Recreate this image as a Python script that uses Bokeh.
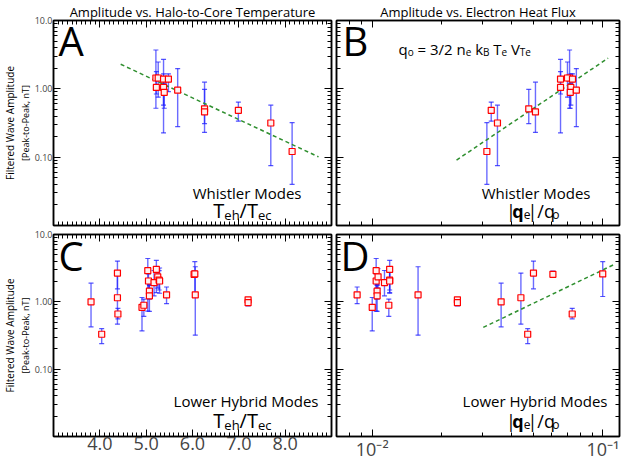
import math
from bokeh.plotting import figure
from bokeh.models import (ColumnDataSource, Range1d, FixedTicker, LinearAxis, LogAxis,
                          Label, PrintfTickFormatter, Title, Grid)
from bokeh.layouts import column, row
from bokeh.embed import file_html
from bokeh.resources import INLINE

# ---------------- data ----------------
# Whistler-mode events (panels A and B)
wh_teh_tec = [5.21, 5.26, 5.22, 5.375, 5.375, 5.39, 5.48, 5.68, 6.26, 6.26, 6.99, 7.69, 8.15]
wh_q_ratio = [0.0717, 0.0702, 0.0655, 0.0655, 0.0726, 0.0722, 0.0738, 0.0767, 0.0477, 0.0510,
              0.0328, 0.0349, 0.0314]
wh_amp = [1.44, 1.44, 1.05, 1.39, 1.05, 0.89, 1.39, 0.955, 0.51, 0.46, 0.485, 0.316, 0.121]
wh_amp_lo = [0.52, 0.755, 0.84, 0.226, 0.577, 0.52, 0.908, 0.28, 0.31, 0.23, 0.336, 0.075, 0.040]
wh_amp_hi = [3.7, 2.47, 1.79, 2.69, 1.66, 1.2, 1.66, 1.98, 0.98, 1.25, 0.64, 0.577, 0.32]

# Lower-hybrid events (panels C and D)
lh_teh_tec = [3.81, 4.04, 4.38, 4.38, 4.39, 4.91, 4.95, 5.035, 5.05, 5.07, 5.07, 5.25, 5.17,
              5.22, 5.28, 5.29, 6.06, 7.20, 7.20, 5.44, 6.035, 6.05]
lh_q_ratio = [0.0362, 0.0472, 0.0500, 0.0441, 0.0736, 0.0100, 0.0118, 0.0104, 0.0104, 0.0105,
              0.0105, 0.0106, 0.0113, 0.0119, 0.0119, 0.0119, 0.0158, 0.0234, 0.0234, 0.0086,
              0.0607, 0.0998]
lh_amp = [1.00, 0.33, 2.67, 1.15, 0.66, 0.83, 0.89, 2.90, 2.04, 1.44, 1.23, 2.35, 1.93, 3.04,
          2.10, 2.04, 1.27, 1.07, 0.97, 1.27, 2.56, 2.60]
lh_amp_lo = [0.425, 0.24, 1.56, 0.465, 0.56, 0.37, 0.61, 0.73, 1.5, 1.1, 0.72, 1.6, 1.23, 1.37,
             1.5, 1.34, 0.32, 0.95, 0.87, 0.94, 2.4, 1.2]
lh_amp_hi = [1.89, 0.40, 4.03, 2.67, 0.80, 1.16, 1.10, 4.4, 2.6, 1.8, 1.75, 3.1, 2.92, 4.12,
             2.9, 3.18, 3.32, 1.16, 1.10, 1.66, 2.85, 3.95]

# fitted trend lines (end points)
fit_a_x = [4.45, 8.72]
fit_a_y = [2.29, 0.101]
fit_b_x = [0.0232, 0.1053]
fit_b_y = [0.0906, 2.81]
fit_d_x = [0.0303, 0.1125]
fit_d_y = [0.417, 3.62]

# axes
teh_range = (3.0, 9.0)
q_range = (0.007, 0.118)
amp_range = (0.01, 10.0)
teh_ticks = [4, 5, 6, 7, 8]
q_ticks = [0.01, 0.1]
q_tick_labels = {0.01: "10\u207b\u00b2", 0.1: "10\u207b\u00b9"}
amp_ticks = [0.1, 1.0, 10.0]
amp_tick_labels = {10.0: "10.0", 1.0: "1.00", 0.1: "0.10"}

titles = ["Amplitude vs. Halo-to-Core Temperature", "Amplitude vs. Electron Heat Flux"]
ylab1 = "Filtered Wave Amplitude"
ylab2 = "[Peak-to-Peak, nT]"

# ---------------- styling ----------------
FONT = "Open Sans"
BAR = "#1c1cff"
FIT = "#2f8f2f"

teh_minor = [round(3 + 0.1 * i, 1) for i in range(61) if i % 10 != 0]
amp_minor = [m * 10.0 ** e for e in (-2, -1, 0) for m in range(2, 10)]
q_minor = [m * 10.0 ** e for e in (-3, -2, -1) for m in range(2, 10)
           if q_range[0] <= m * 10.0 ** e <= q_range[1]]

WID = {' ': 0.26, 'T': 0.55, 'e': 0.56, 'h': 0.61, 'c': 0.48, '/': 0.37, 'q': 0.61, 'o': 0.60,
       '=': 0.57, '3': 0.57, '2': 0.57, 'n': 0.61, 'k': 0.52, 'B': 0.64, 'V': 0.58, '|': 0.40}


def tw(s, size, bold=False):
    return sum(WID.get(c, 0.55) for c in s) * size * (1.05 if bold else 1.0)


def rich(p, segs, x, y, align="left"):
    """segs: list of (text, size, dy, bold, kern); leading spaces become gaps."""
    total = sum(tw(t, s, b) + k for t, s, _, b, k in segs)
    cx = x - total if align == "right" else x
    for t, s, dy, b, k in segs:
        cx += k
        lead = len(t) - len(t.lstrip(" "))
        cx += tw(" " * lead, s)
        t = t.lstrip(" ")
        p.add_layout(Label(x=cx, y=y + dy, x_units="screen", y_units="screen", text=t,
                           text_font=FONT, text_font_size=f"{s}px",
                           text_font_style="bold" if b else "normal",
                           text_color="black", text_baseline="alphabetic", text_align="left"))
        cx += tw(t, s, b)


def style_axis(ax, show):
    ax.axis_line_color = "black"
    ax.axis_line_width = 1.5
    ax.major_tick_line_color = "black"
    ax.minor_tick_line_color = "black"
    ax.major_tick_in = 7
    ax.major_tick_out = 0
    ax.minor_tick_in = 4
    ax.minor_tick_out = 0
    ax.major_label_text_font = FONT
    if not show:
        ax.major_label_text_font_size = "0px"
        ax.major_label_text_color = None
        ax.major_label_standoff = 0


def panel(xtype, xr, fw, fh, left, right, top, bottom, xlabels, ylabels, title=None):
    p = figure(frame_width=fw, frame_height=fh, x_axis_type=xtype, y_axis_type="log",
               x_range=Range1d(*xr), y_range=Range1d(*amp_range),
               x_axis_location=None, y_axis_location=None,
               output_backend="svg", toolbar_location=None, title=title,
               min_border_left=left, min_border_right=right,
               min_border_top=top, min_border_bottom=bottom)
    p.outline_line_color = "black"
    p.outline_line_width = 1.5
    p.background_fill_color = "white"
    p.border_fill_color = "white"
    if title is not None:
        p.title.align = "center"
        p.title.text_font = FONT
        p.title.text_font_size = "13px"
        p.title.text_font_style = "normal"
        p.title.text_color = "black"
        p.title.standoff = 0
    if xtype == "log":
        xt, xm = q_ticks, q_minor
    else:
        xt, xm = teh_ticks, teh_minor
    for loc in ("below", "above"):
        ax = (LogAxis if xtype == "log" else LinearAxis)(
            ticker=FixedTicker(ticks=xt, minor_ticks=xm))
        show = (loc == "below" and xlabels)
        style_axis(ax, show)
        if show:
            ax.major_label_text_font_size = "18px"
            ax.major_label_standoff = 0
            if xtype == "log":
                ax.major_label_overrides = q_tick_labels
            else:
                ax.formatter = PrintfTickFormatter(format="%.1f")
        p.add_layout(ax, loc)
    for loc in ("left", "right"):
        ax = LogAxis(ticker=FixedTicker(ticks=amp_ticks, minor_ticks=amp_minor))
        show = (loc == "left" and ylabels)
        style_axis(ax, show)
        if show:
            ax.major_label_text_font_size = "9px"
            ax.major_label_standoff = 1
            ax.major_label_overrides = amp_tick_labels
        p.add_layout(ax, loc)
    if ylabels:
        p.add_layout(Title(text=ylab2, align="center", text_font=FONT, text_font_size="9px",
                           text_font_style="normal", text_color="black", standoff=0), "left")
        p.add_layout(Title(text=ylab1, align="center", text_font=FONT, text_font_size="10px",
                           text_font_style="normal", text_color="black", standoff=0), "left")
    for r in p.center:
        if isinstance(r, Grid):
            r.visible = False
    return p


def draw(p, x, y, lo, hi, fx=None, fy=None):
    src = ColumnDataSource(dict(x=x, y=y, lo=lo, hi=hi))
    p.segment(x0="x", y0="lo", x1="x", y1="hi", source=src,
              line_color=BAR, line_alpha=0.65, line_width=1.4)
    p.scatter("x", "lo", source=src, marker="dash", size=5, line_color=BAR, line_alpha=0.75,
              line_width=1.2)
    p.scatter("x", "hi", source=src, marker="dash", size=5, line_color=BAR, line_alpha=0.75,
              line_width=1.2)
    if fx is not None:
        p.line(fx, fy, line_color=FIT, line_dash="4 3", line_width=1.5)
    p.scatter("x", "y", source=src, marker="square", size=6, line_color="red",
              fill_color="#fff0f0", line_width=1.2)


FWA, FWB = 278, 283
FHT, FHB = 205, 202

pA = panel("linear", teh_range, FWA, FHT, 2, 2, 0, 2, False, True, titles[0])
pB = panel("log", q_range, FWB, FHT, 3, 2, 0, 2, False, False, titles[1])
pC = panel("linear", teh_range, FWA, FHB, 2, 2, 7, 26, True, True)
pD = panel("log", q_range, FWB, FHB, 3, 2, 7, 26, True, False)

draw(pA, wh_teh_tec, wh_amp, wh_amp_lo, wh_amp_hi, fit_a_x, fit_a_y)
draw(pB, wh_q_ratio, wh_amp, wh_amp_lo, wh_amp_hi, fit_b_x, fit_b_y)
draw(pC, lh_teh_tec, lh_amp, lh_amp_lo, lh_amp_hi)
draw(pD, lh_q_ratio, lh_amp, lh_amp_lo, lh_amp_hi, fit_d_x, fit_d_y)


def lab(p, text, x, y, size, align="left", baseline="alphabetic"):
    p.add_layout(Label(x=x, y=y, x_units="screen", y_units="screen", text=text,
                       text_font=FONT, text_font_size=f"{size}px", text_color="black",
                       text_align=align, text_baseline=baseline))


# big panel letters
for p, letter, fh, dx, dy in ((pA, "A", FHT, 5, 20), (pB, "B", FHT, 6, 20),
                              (pC, "C", FHB, 5, 21), (pD, "D", FHB, 4, 21)):
    lab(p, letter, dx, fh - dy, 40)

# mode names
lab(pA, "Whistler Modes", FWA - 30, 33, 15, align="right")
lab(pB, "Whistler Modes", FWB - 29, 33, 15, align="right")
lab(pC, "Lower Hybrid Modes", FWA - 13, 36, 15, align="right")
lab(pD, "Lower Hybrid Modes", FWB - 12, 36, 15, align="right")

# axis quantity labels
teh_segs = [("T", 20, 0, False, 0), ("eh", 13, -4, False, 0), ("/T", 20, 0, False, 0),
            ("ec", 13, -4, False, 0)]
q_segs = [("|", 18, 0, False, 0), ("q", 18, 0, True, -1), ("e", 12, -4, False, 0),
          ("|/q", 18, 0, False, -3), ("o", 12, -4, False, 0)]
rich(pA, teh_segs, FWA - 60, 15, align="right")
rich(pC, teh_segs, FWA - 60, 16, align="right")
rich(pB, q_segs, FWB - 60, 15, align="right")
rich(pD, q_segs, FWB - 60, 16, align="right")

# heat flux normalisation formula
rich(pB, [("q", 15, 0, False, 0), ("o", 10, -3, False, 0), (" = 3/2 n", 15, 0, False, 0),
          ("e", 10, -3, False, 0), (" k", 15, 0, False, 0), ("B", 10, -3, False, 0),
          (" T", 15, 0, False, 0), ("e", 10, -3, False, 0), (" V", 15, 0, False, 0),
          ("Te", 10, -3, False, 0)], 62, FHT - 28)

layout = column(row(pA, pB), row(pC, pD))
open("out.html", "w").write(file_html(layout, INLINE))
